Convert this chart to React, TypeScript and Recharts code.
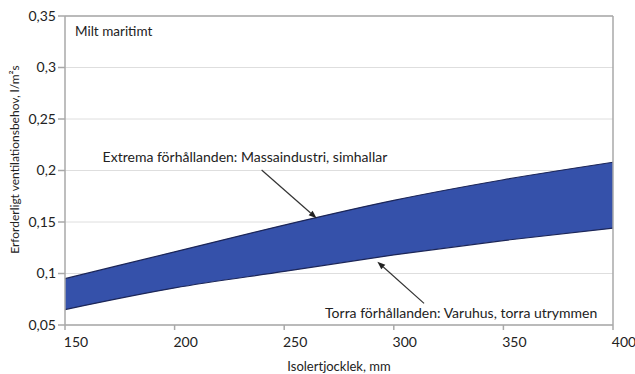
import { Area, ComposedChart, CartesianGrid, Label, Line, ReferenceLine, XAxis, YAxis } from "recharts";

// insulation thickness (mm) and required ventilation (l/m²s) for the two edge cases
const thickness = [150, 200, 250, 300, 350, 400];
const dryLow = [0.065, 0.086, 0.102, 0.118, 0.132, 0.144];
const extremeHigh = [0.095, 0.121, 0.147, 0.171, 0.191, 0.208];

const xTicks = [150, 200, 250, 300, 350, 400];
const yTicks = [0.05, 0.1, 0.15, 0.2, 0.25, 0.3, 0.35];

const climateLabel = "Milt maritimt";
const extremeLabel = "Extrema förhållanden: Massaindustri, simhallar";
const dryLabel = "Torra förhållanden: Varuhus, torra utrymmen";

const data = thickness.map((t, i) => ({
  t,
  low: dryLow[i],
  high: extremeHigh[i],
  band: [dryLow[i], extremeHigh[i]],
}));

const FONT = "Lato, 'Open Sans', sans-serif";
const TXT = "#222";
const FRAME = "#a8a8a8";

type LineShape = { x1: number; y1: number; x2: number; y2: number };

// pointer line with arrow head at (x2, y2) and its caption placed relative to the tail
function pointer(text: string, dx: number, dy: number) {
  return (p: LineShape) => {
    const { x1, y1, x2, y2 } = p;
    const a = Math.atan2(y2 - y1, x2 - x1);
    const len = 8;
    const w = 3;
    const bx = x2 - len * Math.cos(a);
    const by = y2 - len * Math.sin(a);
    const head = [
      `${x2},${y2}`,
      `${bx + w * Math.sin(a)},${by - w * Math.cos(a)}`,
      `${bx - w * Math.sin(a)},${by + w * Math.cos(a)}`,
    ].join(" ");
    return (
      <g>
        <line x1={x1} y1={y1} x2={bx} y2={by} stroke="#333" strokeWidth={1.2} />
        <polygon points={head} fill="#222" />
        <text x={x1 + dx} y={y1 + dy} fontSize={14} fill={TXT} fontFamily={FONT}>
          {text}
        </text>
      </g>
    );
  };
}

const fmt = (v: number) => String(v).replace(".", ",");

export default function App() {
  return (
    <div style={{ position: "absolute", left: 0, top: 0, background: "#fff" }}>
      <ComposedChart width={635} height={374} data={data} margin={{ top: 16, right: 22, bottom: 1, left: 0 }}>
        <CartesianGrid vertical={false} stroke="#dedede" />
        <XAxis
          dataKey="t"
          type="number"
          domain={[150, 400]}
          ticks={xTicks}
          height={48}
          stroke={FRAME}
          strokeWidth={1.5}
          tickSize={5}
          tickMargin={7}
          tick={{ fontSize: 14, fill: TXT, fontFamily: FONT, dx: 11 }}
        >
          <Label value="Isolertjocklek, mm" position="insideBottom" offset={2} style={{ fontSize: 13, fill: TXT, fontFamily: FONT }} />
        </XAxis>
        <YAxis
          type="number"
          domain={[0.05, 0.35]}
          ticks={yTicks}
          width={65}
          stroke={FRAME}
          strokeWidth={1.5}
          tickSize={7}
          tickMargin={2}
          tickFormatter={fmt}
          tick={{ fontSize: 14, fill: TXT, fontFamily: FONT }}
        >
          <Label
            value="Erforderligt ventilationsbehov, l/m²s"
            angle={-90}
            position="insideLeft"
            offset={15}
            dy={-11}
            style={{ fontSize: 12, fill: TXT, fontFamily: FONT, textAnchor: "middle" }}
          />
        </YAxis>
        <Area dataKey="band" type="monotone" fill="#3551aa" fillOpacity={1} stroke="none" isAnimationActive={false} />
        <Line dataKey="high" type="monotone" stroke="#1c2658" strokeWidth={1.2} dot={false} isAnimationActive={false} />
        <Line dataKey="low" type="monotone" stroke="#1c2658" strokeWidth={1.2} dot={false} isAnimationActive={false} />
        <ReferenceLine y={0.35} stroke={FRAME} strokeWidth={1.5}>
          <Label value={climateLabel} position="insideTopLeft" offset={10} style={{ fontSize: 13.5, fill: TXT, fontFamily: FONT }} />
        </ReferenceLine>
        <ReferenceLine x={400} stroke={FRAME} strokeWidth={1.5} />
        <ReferenceLine
          segment={[{ x: 239.7, y: 0.2005 }, { x: 264.8, y: 0.1536 }]}
          shape={pointer(extremeLabel, -159, -8)}
        />
        <ReferenceLine
          segment={[{ x: 313.8, y: 0.071 }, { x: 292.5, y: 0.1115 }]}
          shape={pointer(dryLabel, -99, 15)}
        />
      </ComposedChart>
    </div>
  );
}
